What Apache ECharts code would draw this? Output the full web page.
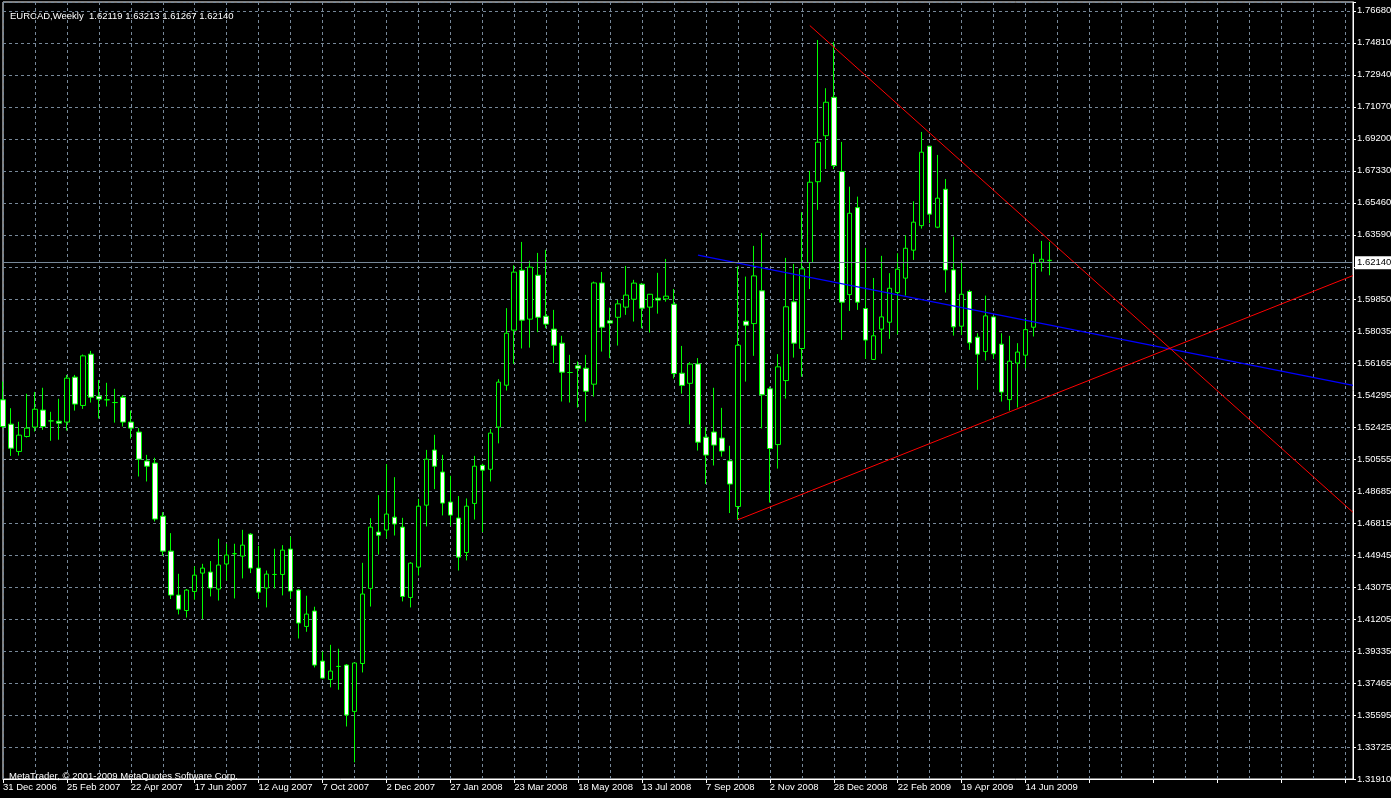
<!DOCTYPE html>
<html>
<head>
<meta charset="utf-8">
<script src="https://cdn.jsdelivr.net/npm/echarts@6/dist/echarts.min.js"></script>
<style>
html,body{margin:0;padding:0;background:#000;}
#chart{width:1391px;height:798px;}
</style>
</head>
<body>
<div id="chart"></div>
<script>
// ---- DATA (EURCAD weekly) ----
const symbolName = 'EURCAD,Weekly';
const firstWeek = '2006-12-31';
const xTickLabels = ['31 Dec 2006','25 Feb 2007','22 Apr 2007','17 Jun 2007','12 Aug 2007','7 Oct 2007','2 Dec 2007','27 Jan 2008','23 Mar 2008','18 May 2008','13 Jul 2008','7 Sep 2008','2 Nov 2008','28 Dec 2008','22 Feb 2009','19 Apr 2009','14 Jun 2009'];
const yTickLabels = ['1.31910','1.33725','1.35595','1.37465','1.39335','1.41205','1.43075','1.44945','1.46815','1.48685','1.50555','1.52425','1.54295','1.56165','1.58035','1.59850','1.61720','1.63590','1.65460','1.67330','1.69200','1.71070','1.72940','1.74810','1.76680'];

const open = [
1.5401,1.5259,1.5100,1.5187,1.5242,1.5341,1.5278,1.5276,1.5271,1.5533,
1.5368,1.5667,1.5422,1.5401,1.5385,1.5416,1.5271,1.5213,1.5044,1.5032,
1.4723,1.4519,1.4263,1.4173,1.4284,1.4391,1.4397,1.4298,1.4444,1.4504,
1.4490,1.4618,1.4420,1.4304,1.4383,1.4383,1.4531,1.4292,1.4080,1.4170,
1.3878,1.3771,1.3847,1.3855,1.3585,1.3864,1.4302,1.4630,1.4642,1.4717,
1.4659,1.4249,1.4426,1.4787,1.5108,1.4980,1.4805,1.4712,1.4511,1.4797,
1.5019,1.4996,1.5242,1.5486,1.5807,1.6156,1.5871,1.6127,1.5888,1.5813,
1.5731,1.5560,1.5599,1.5585,1.5492,1.6082,1.5861,1.5882,1.5941,1.5987,
1.6075,1.5941,1.5993,1.5989,1.5958,1.5556,1.5497,1.5610,1.5183,1.5213,
1.5178,1.5045,1.4779,1.5859,1.5845,1.6036,1.5465,1.5140,1.5513,1.5972,
1.5700,1.6201,1.6672,1.6940,1.7164,1.6731,1.6014,1.6521,1.5933,1.5636,
1.5813,1.5853,1.6026,1.6110,1.6273,1.6416,1.6879,1.6407,1.6628,1.6158,
1.5830,1.6032,1.5766,1.5682,1.5884,1.5725,1.5402,1.5615,1.5661,1.5824,
1.6203,1.62119];
const high = [
1.5507,1.5352,1.5273,1.5436,1.5447,1.5471,1.5331,1.5407,1.5546,1.5546,
1.5665,1.5686,1.5517,1.5500,1.5465,1.5428,1.5338,1.5236,1.5080,1.5063,
1.4746,1.4624,1.4387,1.4298,1.4430,1.4445,1.4461,1.4591,1.4562,1.4562,
1.4643,1.4624,1.4550,1.4406,1.4533,1.4554,1.4603,1.4298,1.4259,1.4195,
1.3934,1.3973,1.3950,1.3861,1.3867,1.4451,1.4711,1.4845,1.5026,1.4950,
1.4713,1.4455,1.4824,1.5109,1.5197,1.5080,1.4958,1.4840,1.4826,1.5074,
1.5028,1.5231,1.5521,1.5935,1.6185,1.6321,1.6211,1.6257,1.6275,1.5925,
1.5774,1.5663,1.5624,1.5663,1.6090,1.6146,1.5938,1.5983,1.6181,1.6100,
1.6082,1.6018,1.6141,1.6222,1.6047,1.5715,1.5620,1.5644,1.5241,1.5471,
1.5354,1.5133,1.6177,1.6119,1.6298,1.6372,1.5478,1.5667,1.6228,1.6193,
1.6494,1.6735,1.7498,1.7217,1.7486,1.6904,1.6643,1.6585,1.6286,1.6111,
1.6240,1.6139,1.6255,1.6360,1.6558,1.6962,1.6880,1.6828,1.6688,1.6352,
1.6205,1.6042,1.5789,1.6008,1.5890,1.5789,1.5774,1.5731,1.5877,1.6251,
1.6327,1.63213];
const low = [
1.5236,1.5074,1.5076,1.5181,1.5216,1.5226,1.5162,1.5168,1.5222,1.5338,
1.5348,1.5385,1.5292,1.5362,1.5268,1.5245,1.5175,1.4954,1.4925,1.4692,
1.4492,1.4240,1.4150,1.4132,1.4236,1.4123,1.4255,1.4231,1.4348,1.4243,
1.4360,1.4391,1.4243,1.4191,1.4301,1.4261,1.4243,1.4010,1.4049,1.3841,
1.3775,1.3725,1.3711,1.3497,1.3288,1.3812,1.4196,1.4499,1.4593,1.4610,
1.4226,1.4191,1.4377,1.4663,1.4880,1.4727,1.4667,1.4406,1.4465,1.4703,
1.4630,1.4925,1.5147,1.5455,1.5610,1.5700,1.5705,1.5795,1.5818,1.5614,
1.5391,1.5385,1.5356,1.5274,1.5420,1.5682,1.5644,1.5717,1.5896,1.5857,
1.5818,1.5793,1.5903,1.5973,1.5525,1.5437,1.5257,1.5105,1.4910,1.5018,
1.5070,1.4741,1.4702,1.5507,1.5657,1.5234,1.4802,1.5000,1.5408,1.5647,
1.5536,1.6046,1.6508,1.6746,1.6746,1.5750,1.5919,1.5925,1.5640,1.5634,
1.5670,1.5756,1.5783,1.6008,1.6216,1.6399,1.6430,1.6401,1.6026,1.5775,
1.5778,1.5692,1.5459,1.5630,1.5641,1.5391,1.5338,1.5356,1.5585,1.5770,
1.6148,1.61267];
const close = [
1.5245,1.5119,1.5195,1.5236,1.5346,1.5245,1.5278,1.5265,1.5527,1.5376,
1.5657,1.5416,1.5405,1.5401,1.5385,1.5271,1.5236,1.5055,1.5014,1.4706,
1.4519,1.4263,1.4181,1.4292,1.4379,1.4420,1.4304,1.4438,1.4496,1.4504,
1.4554,1.4420,1.4280,1.4385,1.4383,1.4525,1.4286,1.4100,1.4152,1.3855,
1.3779,1.3820,1.3847,1.3564,1.3867,1.4269,1.4659,1.4612,1.4735,1.4677,
1.4255,1.4449,1.4781,1.5055,1.5014,1.4799,1.4729,1.4484,1.4781,1.5014,
1.4991,1.5207,1.5504,1.5789,1.6145,1.5865,1.6174,1.5882,1.5842,1.5719,
1.5562,1.5560,1.5585,1.5451,1.6082,1.5824,1.5848,1.5960,1.6011,1.6081,
1.5935,1.6016,1.5982,1.6005,1.5554,1.5485,1.5609,1.5154,1.5079,1.5137,
1.5102,1.4910,1.5719,1.5836,1.6123,1.5430,1.5117,1.5593,1.5943,1.5731,
1.6164,1.6669,1.6902,1.7135,1.6766,1.5970,1.6488,1.5970,1.5749,1.5774,
1.5884,1.6051,1.6162,1.6284,1.6436,1.6844,1.6483,1.6576,1.6158,1.5826,
1.6016,1.5733,1.5667,1.5890,1.5669,1.5446,1.5626,1.5679,1.5810,1.6197,
1.6220,1.62140];

// trend lines drawn on the chart: [bar index, price]
const upperRedLine = [[101, 1.7582], [169, 1.4745]];
const lowerRedLine = [[92, 1.4702], [169, 1.6125]];
const blueLine = [[87, 1.6244], [169, 1.5485]];

const totalSlots = 170;           // bars plus empty chart shift on the right
const yMin = 1.31910, yStep = 0.0186542, yMax = 1.77193;

// ---- build ----
const months = ['Jan','Feb','Mar','Apr','May','Jun','Jul','Aug','Sep','Oct','Nov','Dec'];
const t0 = Date.parse(firstWeek + 'T00:00:00Z');
const categories = [];
for (let i = 0; i < totalSlots; i++) {
  const d = new Date(t0 + i * 7 * 86400000);
  categories.push(d.getUTCDate() + ' ' + months[d.getUTCMonth()] + ' ' + d.getUTCFullYear());
}
const candles = open.map((o, i) => [o, close[i], low[i], high[i]]);
const n = open.length;
const last = n - 1;
const titleText = symbolName + '  ' + open[last].toFixed(5) + ' ' + high[last].toFixed(5) + ' ' + low[last].toFixed(5) + ' ' + close[last].toFixed(5);

const FONT = "'Liberation Sans', Arial, sans-serif";
const FS = 9.5;
const gridColor = '#778899';

const chart = echarts.init(document.getElementById('chart'), null, {renderer: 'canvas'});
chart.setOption({
  backgroundColor: '#000',
  animation: false,
  title: [
    {text: titleText, left: 5, top: 6, textStyle: {color: '#fff', fontSize: FS, fontWeight: 'normal', fontFamily: FONT}},
    {text: 'MetaTrader, \u00a9 2001-2009 MetaQuotes Software Corp.', left: 4, top: 766, textStyle: {color: '#fff', fontSize: FS, fontWeight: 'normal', fontFamily: FONT}}
  ],
  grid: {left: 3, right: 38, top: 2, bottom: 19, containLabel: false, outerBoundsMode: 'none', show: true, borderColor: '#fff', borderWidth: 1, backgroundColor: '#000'},
  xAxis: {
    type: 'category', data: categories, boundaryGap: false,
    axisLine: {show: true, lineStyle: {color: '#fff', width: 1}},
    axisTick: {show: true, interval: 7, length: 4, lineStyle: {color: '#fff'}},
    axisLabel: {
      interval: 7, align: 'left', margin: 3, color: '#fff', fontSize: FS, fontFamily: FONT, hideOverlap: false,
      formatter: (v, idx) => (idx % 8 === 0 && idx / 8 < xTickLabels.length) ? xTickLabels[idx / 8] : ''
    },
    splitLine: {show: true, interval: 3, lineStyle: {color: gridColor, type: [3, 3], width: 1}}
  },
  yAxis: {
    type: 'value', position: 'right', min: yMin, max: yMax, interval: yStep, scale: true,
    axisLine: {show: true, lineStyle: {color: '#fff', width: 1}},
    axisTick: {show: true, length: 3, lineStyle: {color: '#fff'}},
    axisLabel: {
      color: '#fff', fontSize: FS, fontFamily: FONT, margin: 4, align: 'left', hideOverlap: false,
      formatter: (v) => { const k = (v - yMin) / yStep; const r = Math.round(k); return (Math.abs(k - r) < 0.02 && r >= 0 && r < yTickLabels.length) ? yTickLabels[r] : ''; }
    },
    splitLine: {show: true, lineStyle: {color: gridColor, type: [3, 3], width: 1}}
  },
  series: [
    {
      type: 'candlestick', data: candles, barWidth: 5,
      itemStyle: {color: '#000000', color0: '#ffffff', borderColor: '#00ff00', borderColor0: '#00ff00', borderColorDoji: '#00ff00', borderWidth: 1},
      markLine: {
        silent: true, symbol: 'none', animation: false,
        lineStyle: {color: gridColor, type: 'solid', width: 1},
        label: {show: true, position: 'end', distance: 2, color: '#000', backgroundColor: '#fff', padding: [2, 2, 1, 2], fontSize: FS, fontFamily: FONT,
          formatter: () => close[last].toFixed(5)},
        data: [{yAxis: close[last]}]
      }
    },
    {type: 'line', data: blueLine, symbol: 'none', silent: true, lineStyle: {color: '#0000ff', width: 1.3}, z: 3},
    {type: 'line', data: upperRedLine, symbol: 'none', silent: true, lineStyle: {color: '#ff0000', width: 1}, z: 3},
    {type: 'line', data: lowerRedLine, symbol: 'none', silent: true, lineStyle: {color: '#ff0000', width: 1}, z: 3}
  ]
});
</script>
</body>
</html>
